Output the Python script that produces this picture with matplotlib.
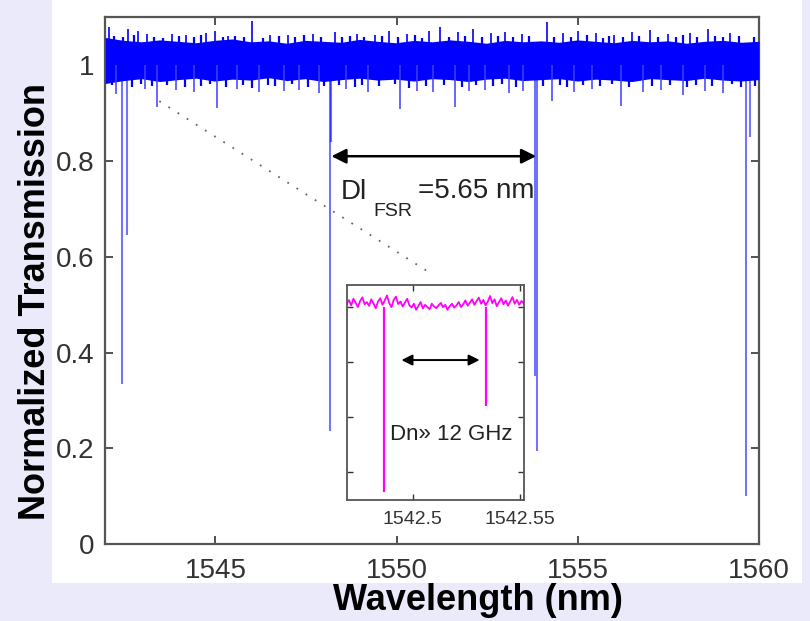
import matplotlib.pyplot as plt
import numpy as np
from matplotlib.patches import Rectangle

# main trace: dense noise band (envelope every 0.5 nm)
band_hi = [1.058, 1.052, 1.049, 1.053, 1.050, 1.047, 1.052, 1.055, 1.049, 1.051,
           1.046, 1.052, 1.050, 1.048, 1.054, 1.050, 1.047, 1.052, 1.049, 1.053,
           1.050, 1.046, 1.052, 1.049, 1.051, 1.048, 1.053, 1.050, 1.047, 1.052,
           1.049, 1.051, 1.046, 1.050, 1.052, 1.048, 1.050]
band_lo = [0.962, 0.968, 0.972, 0.966, 0.970, 0.973, 0.967, 0.971, 0.969, 0.974,
           0.968, 0.972, 0.966, 0.970, 0.973, 0.969, 0.971, 0.967, 0.972, 0.970,
           0.966, 0.971, 0.973, 0.968, 0.970, 0.972, 0.967, 0.971, 0.969, 0.966,
           0.972, 0.970, 0.968, 0.973, 0.969, 0.967, 0.970]

# short spikes fringing the band edges
fringe_up_wl = [1542.2, 1542.45, 1542.75, 1543.3, 1543.55, 1544.0, 1544.4, 1544.6, 1545.2,
                1545.55, 1545.8, 1546.3, 1546.75, 1547.2, 1547.45, 1547.9, 1548.5, 1548.7,
                1549.1, 1549.6, 1550.05, 1550.5, 1550.7, 1551.45, 1551.9, 1552.35, 1552.8,
                1553.2, 1553.65, 1554.35, 1554.8, 1555.25, 1555.7, 1555.85, 1556.25, 1556.7,
                1557.2, 1557.7, 1557.9, 1558.3, 1558.8, 1559.0, 1559.45, 1559.85]
fringe_up_top = [1.062, 1.058, 1.064, 1.060, 1.057, 1.061, 1.059, 1.063, 1.058,
                 1.062, 1.060, 1.057, 1.061, 1.059, 1.063, 1.058, 1.060, 1.062,
                 1.058, 1.061, 1.059, 1.063, 1.057, 1.060, 1.062, 1.058, 1.061,
                 1.059, 1.062, 1.058, 1.060, 1.063, 1.057, 1.061, 1.059, 1.062,
                 1.058, 1.060, 1.063, 1.059, 1.061, 1.058, 1.062, 1.060]
fringe_dn_wl = [1542.15, 1542.7, 1542.95, 1543.25, 1543.65, 1544.15, 1544.6, 1544.85, 1545.3,
                1545.75, 1546.0, 1546.45, 1546.65, 1547.1, 1547.55, 1548.0, 1548.4, 1548.85,
                1549.05, 1549.5, 1549.95, 1550.35, 1550.8, 1551.3, 1551.8, 1552.2, 1552.65,
                1552.9, 1553.3, 1554.05, 1554.5, 1554.7, 1555.15, 1555.6, 1555.95, 1556.4,
                1557.05, 1557.55, 1558.0, 1558.25, 1558.7, 1559.25, 1559.5, 1559.9]
fringe_dn_bot = [0.958, 0.955, 0.960, 0.956, 0.959, 0.954, 0.957, 0.960, 0.955,
                 0.958, 0.953, 0.959, 0.956, 0.960, 0.954, 0.957, 0.959, 0.955,
                 0.958, 0.956, 0.960, 0.953, 0.957, 0.959, 0.955, 0.958, 0.956,
                 0.960, 0.954, 0.957, 0.959, 0.955, 0.958, 0.956, 0.960, 0.954,
                 0.957, 0.959, 0.955, 0.958, 0.956, 0.960, 0.954, 0.957]

# upward whiskers above the band
up_wl = [1542.05, 1542.6, 1542.85, 1543.1, 1543.8, 1544.2, 1544.75, 1545.0, 1545.35,
         1546.02, 1546.5, 1547.0, 1547.7, 1548.3, 1548.9, 1549.4, 1549.8, 1550.3,
         1550.9, 1551.2, 1551.7, 1552.1, 1552.6, 1553.0, 1553.45, 1554.14, 1554.6,
         1555.0, 1555.5, 1556.0, 1556.5, 1557.0, 1557.5, 1558.1, 1558.6, 1559.2]
up_top = [1.080, 1.075, 1.072, 1.066, 1.065, 1.063, 1.068, 1.072, 1.062,
          1.093, 1.064, 1.063, 1.066, 1.070, 1.066, 1.064, 1.071, 1.066,
          1.072, 1.080, 1.070, 1.075, 1.068, 1.070, 1.066, 1.090, 1.068,
          1.072, 1.067, 1.064, 1.070, 1.073, 1.066, 1.068, 1.076, 1.068]

# shallow downward whiskers below the band
down_wl = [1542.25, 1543.05, 1543.4, 1543.9, 1544.4, 1545.05, 1545.6, 1546.2, 1546.9,
           1547.3, 1547.85, 1548.6, 1549.2, 1550.1, 1550.55, 1551.0, 1551.6, 1552.0,
           1552.45, 1553.1, 1553.5, 1554.3, 1554.9, 1555.4, 1556.2, 1556.8, 1557.3,
           1557.9, 1558.5, 1559.0]
down_bot = [0.940, 0.950, 0.912, 0.948, 0.945, 0.910, 0.950, 0.944, 0.946,
            0.948, 0.942, 0.950, 0.945, 0.908, 0.947, 0.944, 0.912, 0.946,
            0.948, 0.942, 0.946, 0.925, 0.944, 0.950, 0.915, 0.945, 0.948,
            0.938, 0.946, 0.942]

# resonance dips
dip_wl = [1542.41, 1542.55, 1548.15, 1548.20, 1553.83, 1553.87, 1559.63, 1559.74]
dip_min = [0.335, 0.645, 0.237, 0.840, 0.350, 0.195, 0.100, 0.850]

# inset trace (magenta), zoom on one resonance doublet
inset_y = [0.812, 0.825, 0.806, 0.830, 0.815, 0.800, 0.822, 0.835, 0.810, 0.818,
           0.804, 0.828, 0.812, 0.796, 0.820, 0.832, 0.808, 0.824, 0.842, 0.814,
           0.800, 0.826, 0.838, 0.811, 0.820, 0.802, 0.816, 0.830, 0.806, 0.798,
           0.812, 0.790, 0.804, 0.818, 0.795, 0.808, 0.800, 0.792, 0.812, 0.802,
           0.796, 0.806, 0.815, 0.799, 0.808, 0.790, 0.803, 0.812, 0.798, 0.806,
           0.818, 0.800, 0.810, 0.824, 0.805, 0.816, 0.828, 0.808, 0.822, 0.834,
           0.812, 0.826, 0.806, 0.820, 0.840, 0.814, 0.828, 0.803, 0.818, 0.832,
           0.810, 0.824, 0.805, 0.820, 0.836, 0.812, 0.826, 0.808, 0.822, 0.815]
inset_dip_wl = [1542.4867, 1542.5344]
inset_dip_min = [0.128, 0.440]

xticks = [1545, 1550, 1555, 1560]
yticks = [0, 0.2, 0.4, 0.6, 0.8, 1]
yticklabels = ['0', '0.2', '0.4', '0.6', '0.8', '1']
inset_xticks = [1542.5, 1542.55]

plt.rcParams['font.family'] = ['Liberation Sans', 'DejaVu Sans']

fig = plt.figure(figsize=(8.1, 6.21), dpi=100)
fig.patch.set_facecolor('#eaeafb')
fig.patches.append(Rectangle((0.064, 0.061), 0.926, 0.939, transform=fig.transFigure,
                             facecolor='white', edgecolor='none', zorder=-5))

ax = fig.add_axes([0.130, 0.124, 0.807, 0.848])
band_wl = np.linspace(1541.96, 1560.0, len(band_hi))
ax.fill_between(band_wl, band_lo, band_hi, color='#0000ff', lw=0, zorder=3)
ax.vlines(fringe_up_wl, 1.0, fringe_up_top, color='#0000ff', lw=1.6, zorder=3)
ax.vlines(fringe_dn_wl, 1.0, fringe_dn_bot, color='#0000ff', lw=1.6, zorder=3)
ax.vlines(up_wl, 1.0, up_top, color='#0000ff', lw=1.2, zorder=3)
ax.vlines(down_wl, 1.0, down_bot, color='#4040ff', lw=1.4, alpha=0.8, zorder=3)
ax.vlines(dip_wl, 0.97, dip_min, color='#0000ff', lw=1.5, alpha=0.55, zorder=2)

ax.plot([1543.45, 1550.95], [0.925, 0.565], color='#666666', lw=1.3,
        linestyle=(0, (1, 5)), zorder=2)
ax.annotate('', xy=(1548.2, 0.81), xytext=(1553.85, 0.81),
            arrowprops=dict(arrowstyle='<|-|>', color='black', lw=1.8,
                            mutation_scale=22, shrinkA=0, shrinkB=0))
ax.text(1548.45, 0.735, 'Dl', fontsize=20, color='#222222', va='center', ha='left')
ax.text(1549.35, 0.695, 'FSR', fontsize=14, color='#222222', va='center', ha='left')
ax.text(1550.6, 0.737, '=5.65 nm', fontsize=20, color='#222222', va='center', ha='left')

ax.set_xlim(1541.96, 1560.0)
ax.set_ylim(0, 1.1)
ax.set_xticks(xticks)
ax.set_yticks(yticks)
ax.set_yticklabels(yticklabels)
ax.tick_params(direction='in', length=6, width=1.2, top=True, right=True,
               labelsize=20, colors='#333333', pad=8)
ax.tick_params(axis='x', pad=10)
for s in ax.spines.values():
    s.set_color('#555555')
    s.set_linewidth(1.6)

fig.text(0.59, 0.033, 'Wavelength (nm)', fontsize=26, fontweight='bold',
         ha='center', va='center')
fig.text(0.044, 0.515, 'Normalized Transmission', fontsize=26, fontweight='bold',
         rotation=90, ha='center', va='center')

# inset
axi = fig.add_axes([0.428, 0.195, 0.2185, 0.346])
inset_wl = np.linspace(1542.4692, 1542.5519, len(inset_y))
axi.plot(inset_wl, inset_y, color='#ff00ff', lw=1.3)
axi.vlines(inset_dip_wl, 0.80, inset_dip_min, color='#ff00ff', lw=1.6)
axi.annotate('', xy=(1542.4948, 0.607), xytext=(1542.5313, 0.607),
             arrowprops=dict(arrowstyle='<|-|>', color='black', lw=1.4,
                             mutation_scale=16, shrinkA=0, shrinkB=0))
axi.text(1542.4895, 0.335, 'Dn» 12 GHz', fontsize=16, color='#222222', ha='left', va='center')
axi.set_xlim(1542.4692, 1542.5519)
axi.set_ylim(0.098, 0.88)
axi.set_xticks(inset_xticks)
axi.set_xticklabels(['1542.5', '1542.55'])
axi.set_yticks([0.2, 0.4, 0.6, 0.8])
axi.set_yticklabels([])
axi.tick_params(direction='in', length=4, width=1, top=True, right=True,
                labelsize=14, colors='#333333', pad=8)
for s in axi.spines.values():
    s.set_color('#555555')
    s.set_linewidth(1.3)

fig.savefig('out.png', dpi=100, facecolor=fig.get_facecolor())
